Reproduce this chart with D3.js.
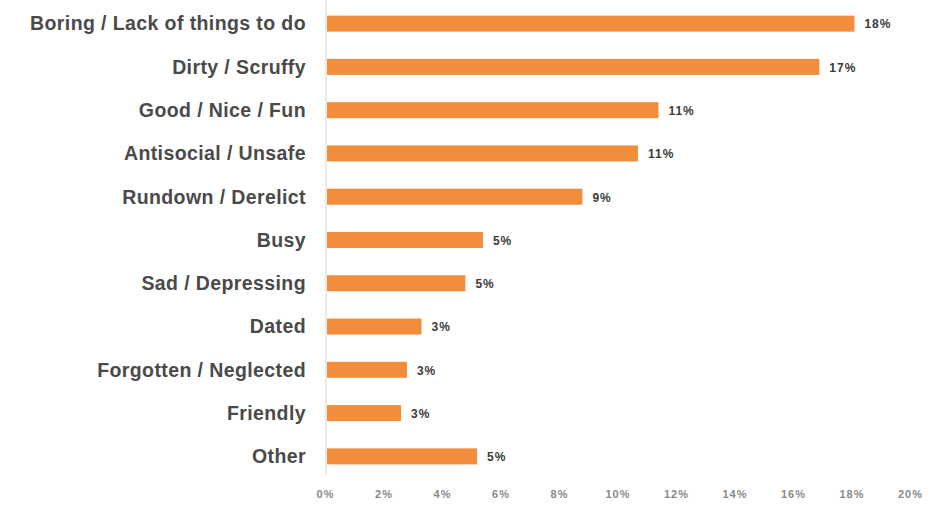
<!DOCTYPE html>
<html>
<head>
<meta charset="utf-8">
<script src="https://cdn.jsdelivr.net/npm/d3@7"></script>
<style>
  body { margin: 0; background: #fff; }
</style>
</head>
<body>
<script>
// chart data
const categories = ["Boring / Lack of things to do", "Dirty / Scruffy", "Good / Nice / Fun",
    "Antisocial / Unsafe", "Rundown / Derelict", "Busy", "Sad / Depressing", "Dated",
    "Forgotten / Neglected", "Friendly", "Other"];
const values = [18.1, 16.9, 11.4, 10.7, 8.8, 5.4, 4.8, 3.3, 2.8, 2.6, 5.2];
const valueLabels = ["18%", "17%", "11%", "11%", "9%", "5%", "5%", "3%", "3%", "3%", "5%"];
const ticks = [0, 2, 4, 6, 8, 10, 12, 14, 16, 18, 20];

// setup basic requirements
const w = 932;
const h = 511;

const svg = d3.select("body")
    .append("svg")
    .attr("width", w)
    .attr("height", h);

const xScale = d3.scaleLinear()
    .domain([0, 20])
    .range([325, 910]);

const yScale = d3.scaleBand()
    .domain(categories)
    .range([2, 478])
    .paddingInner(0.63)
    .paddingOuter(0.315);

// vertical axis line
svg.append("line")
    .attr("x1", 326).attr("x2", 326)
    .attr("y1", 0).attr("y2", 475)
    .attr("stroke", "#d6d6d6")
    .attr("stroke-width", 1);

svg.selectAll("rect.bar")
    .data(values)
    .enter()
    .append("rect")
    .attr("class", "bar")
    .attr("x", 327)
    .attr("y", (d, i) => yScale(categories[i]))
    .attr("width", d => xScale(d) - 327)
    .attr("height", yScale.bandwidth())
    .attr("fill", "#f28d3c");

// category labels
svg.selectAll("text.cat")
    .data(categories)
    .enter()
    .append("text")
    .attr("class", "cat")
    .attr("x", 306)
    .attr("y", d => yScale(d) + yScale.bandwidth() / 2)
    .attr("dy", "0.35em")
    .attr("text-anchor", "end")
    .attr("font-family", "Liberation Sans, Arial, sans-serif")
    .attr("font-weight", "bold")
    .attr("font-size", "19.5px")
    .attr("letter-spacing", "0.4px")
    .attr("fill", "#4a4a4a")
    .text(d => d);

// value labels
svg.selectAll("text.val")
    .data(values)
    .enter()
    .append("text")
    .attr("class", "val")
    .attr("x", d => xScale(d) + 10)
    .attr("y", (d, i) => yScale(categories[i]) + yScale.bandwidth() / 2)
    .attr("dy", "0.4em")
    .attr("font-family", "Liberation Sans, Arial, sans-serif")
    .attr("font-weight", "bold")
    .attr("font-size", "12px")
    .attr("letter-spacing", "1px")
    .attr("fill", "#3a3a3a")
    .text((d, i) => valueLabels[i]);

// x axis
const xAxis = d3.axisBottom(xScale)
    .tickValues(ticks)
    .tickFormat(d => d + "%")
    .tickSize(0)
    .tickPadding(0);

const gx = svg.append("g")
    .attr("transform", "translate(0,490)")
    .call(xAxis);

gx.select(".domain").remove();
gx.selectAll("text")
    .attr("font-family", "Liberation Sans, Arial, sans-serif")
    .attr("font-weight", "bold")
    .attr("font-size", "11px")
    .attr("letter-spacing", "1px")
    .attr("fill", "#8a8a8a");
</script>
</body>
</html>
